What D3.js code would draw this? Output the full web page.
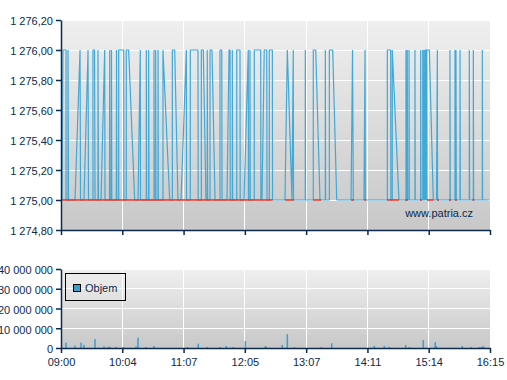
<!DOCTYPE html>
<meta charset='utf-8'>
<style>
	body {
		margin: 0;
		background: #fff;
	}

	text {
		font-family: 'Liberation Sans', Arial, sans-serif;
		font-size: 11px;
		fill: #0b2a4e;
	}

	.grid line {
		stroke: #fff;
		stroke-width: 1px;
		shape-rendering: crispEdges;
	}

	.axis path, .axis line {
		stroke: #0b2a4e;
		stroke-width: 1.5px;
	}
</style>
<body>
<script src='https://cdn.jsdelivr.net/npm/d3@7'></script>

<script type='text/javascript'>
	// minutes after 09:00 ; axis labels sit at equal steps of the session
	var timeLabels = ['09:00', '10:04', '11:07', '12:05', '13:07', '14:11', '15:14', '16:15'];
	var sessionLength = 435;

	var priceTicks = [1274.8, 1275.0, 1275.2, 1275.4, 1275.6, 1275.8, 1276.0, 1276.2];
	var volumeTicks = [0, 10000000, 20000000, 30000000, 40000000];

	// trades: [minute, price]
	var priceSeries = [
		[1.0, 1275], [2.0, 1276], [5.1, 1276], [5.1, 1275], [7.1, 1275], [7.1, 1276], [7.6, 1275],
		[14.2, 1275], [19.3, 1276], [19.8, 1275],
		[23.3, 1275], [27.4, 1276], [27.9, 1275],
		[32.4, 1275], [32.4, 1276], [34.0, 1276], [34.5, 1275],
		[37.5, 1275], [37.5, 1276], [38.0, 1275],
		[40.6, 1275], [44.3, 1276], [44.6, 1275],
		[49.2, 1275], [49.4, 1276], [49.7, 1275], [51.0, 1275], [51.2, 1276], [51.5, 1275],
		[56.1, 1275], [56.3, 1276], [56.6, 1275],
		[58.5, 1275], [58.5, 1276], [63.6, 1276], [63.8, 1275],
		[66.2, 1275], [66.2, 1276], [68.6, 1276], [74.7, 1275],
		[78.1, 1275], [80.4, 1276], [80.6, 1275],
		[86.5, 1275], [86.5, 1276], [86.8, 1275], [88.9, 1275], [88.9, 1276], [89.2, 1275],
		[94.3, 1275], [94.3, 1276], [94.6, 1275], [96.0, 1275], [96.0, 1276], [96.3, 1275],
		[98.4, 1275], [98.4, 1276], [98.7, 1275],
		[103.4, 1275], [103.4, 1276], [110.2, 1275],
		[112.9, 1275], [112.9, 1276], [115.3, 1276], [118.6, 1275],
		[121.7, 1275], [127.1, 1276], [127.3, 1275],
		[131.1, 1275], [131.1, 1276], [138.9, 1276], [139.1, 1275],
		[142.3, 1275], [142.3, 1276], [144.3, 1276], [147.0, 1275],
		[148.3, 1275], [148.3, 1276], [148.7, 1275],
		[151.1, 1275], [151.1, 1276], [153.1, 1276], [156.2, 1275],
		[161.2, 1275], [161.2, 1276], [163.0, 1276], [163.3, 1275],
		[168.3, 1275], [170.4, 1276], [171.4, 1276], [171.6, 1275],
		[173.7, 1275], [173.7, 1276], [174.0, 1275],
		[178.2, 1275], [178.2, 1276], [181.5, 1276], [181.7, 1275],
		[185.6, 1275], [189.9, 1276], [190.1, 1275], [191.6, 1275], [191.6, 1276], [191.9, 1275],
		[196.0, 1275], [196.0, 1276], [202.5, 1276], [202.7, 1275],
		[203.8, 1275], [206.1, 1276], [208.6, 1276], [208.9, 1275],
		[211.2, 1275], [211.2, 1276], [214.3, 1276], [214.5, 1275],
		[227.1, 1275], [229.5, 1276], [234.2, 1275], [235.5, 1276], [235.8, 1275],
		[247.7, 1275], [247.7, 1276], [248.0, 1275],
		[255.8, 1275], [255.8, 1276], [258.3, 1276], [262.6, 1275],
		[268.0, 1275], [268.0, 1276], [268.3, 1275],
		[272.1, 1275], [272.1, 1276], [275.5, 1276], [279.6, 1275],
		[294.1, 1275], [295.6, 1276], [296.4, 1275],
		[307.2, 1275], [308.3, 1276], [308.6, 1275],
		[330.9, 1275], [330.9, 1276], [334.3, 1276], [334.5, 1275], [335.9, 1275], [335.9, 1276], [342.7, 1275],
		[349.8, 1275], [349.8, 1276], [350.1, 1275], [351.1, 1275], [351.1, 1276], [351.4, 1275],
		[352.9, 1275], [352.9, 1276], [353.2, 1275],
		[358.9, 1275], [358.9, 1276], [359.2, 1275],
		[364.7, 1275], [364.7, 1276], [365.0, 1275], [366.8, 1275], [366.8, 1276], [367.1, 1275],
		[368.1, 1275], [368.1, 1276], [368.4, 1275],
		[369.4, 1275], [369.4, 1276], [370.4, 1276], [370.4, 1275], [370.9, 1275], [370.9, 1276], [373.5, 1276], [377.5, 1275],
		[380.8, 1275], [381.6, 1276], [381.8, 1275],
		[394.4, 1275], [394.4, 1276], [394.7, 1275],
		[399.5, 1275], [399.5, 1276], [399.8, 1275], [400.5, 1275], [400.5, 1276], [400.8, 1275],
		[404.6, 1275], [404.6, 1276], [404.9, 1275],
		[414.0, 1275], [414.0, 1276], [414.3, 1275],
		[418.1, 1275], [418.1, 1276], [418.4, 1275],
		[427.2, 1275], [427.2, 1276], [427.5, 1275],
		[434.0, 1275]
	];

	// previous close level, shown in red where the price line does not cover it
	var refLevel = 1275.0;
	var refSpans = [
		[0, 214.5], [227.1, 236.3], [255.5, 263.6], [294.1, 297.1], [307.2, 309.3],
		[330.6, 342.7], [348.8, 351.8], [364.0, 366.0], [371.1, 377.7], [381.3, 383.3],
		[393.4, 395.5], [399.5, 401.5], [417.1, 419.1]
	];

	// volume: [minute, shares]
	var volumeSeries = [
		[5.1, 2700000], [14.2, 1200000], [20.3, 2700000], [23.3, 1600000], [34.5, 4600000],
		[43.6, 800000], [47.7, 600000], [49.7, 600000], [55.8, 600000], [63.2, 500000],
		[76.1, 700000], [78.1, 5200000], [86.2, 500000], [94.3, 1000000], [128.1, 500000],
		[139.2, 2200000], [148.3, 500000], [161.5, 500000], [167.6, 1000000], [174.7, 500000],
		[186.9, 3500000], [207.2, 1000000], [208.2, 500000], [224.4, 1600000], [229.5, 7000000],
		[236.6, 500000], [263.9, 500000], [274.5, 2400000], [317.7, 1000000], [327.8, 1000000],
		[332.9, 500000], [349.5, 1500000], [353.2, 500000], [367.4, 4000000], [379.5, 3000000],
		[380.6, 1000000], [406.9, 1000000], [416.0, 500000], [423.9, 500000], [425.9, 500000],
		[427.9, 1000000], [429.0, 500000]
	];

	var svgW = 507, svgH = 380;
	var plotL = 61, plotR = 490;
	var top1 = 20, bot1 = 230, top2 = 269, bot2 = 348;

	var loc = d3.formatLocale({decimal: ',', thousands: ' ', grouping: [3], currency: ['', '']});
	var priceFmt = loc.format(',.2f');
	var volFmt = loc.format(',d');

	var x = d3.scaleLinear().domain([0, sessionLength]).range([plotL, plotR]);
	var xTicks = timeLabels.map(function (d, i) { return i * sessionLength / (timeLabels.length - 1); });
	var yP = d3.scaleLinear().domain([priceTicks[0], priceTicks[priceTicks.length - 1]]).range([bot1, top1]);
	var yV = d3.scaleLinear().domain([0, volumeTicks[volumeTicks.length - 1]]).range([bot2, top2]);

	var svg = d3.select('body').append('svg').attr('width', svgW).attr('height', svgH);

	var grad = svg.append('defs').append('linearGradient').attr('id', 'bg')
		.attr('x1', 0).attr('y1', 0).attr('x2', 0).attr('y2', 1);
	grad.append('stop').attr('offset', 0).attr('stop-color', '#efefef');
	grad.append('stop').attr('offset', 1).attr('stop-color', '#c8c8c8');

	function panel(y, ticks) {
		var r = y.range();
		var g = svg.append('g');
		g.append('rect').attr('x', plotL).attr('y', r[1]).attr('width', plotR - plotL)
			.attr('height', r[0] - r[1]).attr('fill', 'url(#bg)');

		var grid = g.append('g').attr('class', 'grid');
		grid.selectAll('line.h').data(ticks.slice(1)).enter().append('line')
			.attr('x1', plotL).attr('x2', plotR)
			.attr('y1', function (d) { return y(d); }).attr('y2', function (d) { return y(d); });
		grid.selectAll('line.v').data(xTicks.slice(1)).enter().append('line')
			.attr('y1', r[1]).attr('y2', r[0])
			.attr('x1', function (d) { return x(d); }).attr('x2', function (d) { return x(d); });
		return g;
	}

	function axes(y, ticks, fmt, showLabels) {
		var r = y.range();
		var ay = svg.append('g').attr('class', 'axis').attr('transform', 'translate(' + plotL + ',0)')
			.call(d3.axisLeft(y).tickValues(ticks).tickFormat(fmt).tickSize(5).tickSizeOuter(0).tickPadding(3));
		ay.selectAll('text').attr('dy', '0.45em');
		svg.append('g').attr('class', 'axis').attr('transform', 'translate(0,' + r[0] + ')')
			.call(d3.axisBottom(x).tickValues(xTicks).tickSize(5).tickSizeOuter(0).tickPadding(5)
				.tickFormat(function (d, i) { return showLabels ? timeLabels[i] : ''; }));
		svg.selectAll('.axis .domain').attr('fill', 'none');
		svg.selectAll('.axis text').attr('fill', '#0b2a4e').attr('font-size', 11)
			.attr('font-family', "'Liberation Sans', Arial, sans-serif");
	}

	// price panel
	panel(yP, priceTicks);

	var line = d3.line().x(function (d) { return x(d[0]); }).y(function (d) { return yP(d[1]); });
	svg.append('path').datum(priceSeries).attr('d', line)
		.attr('fill', 'none').attr('stroke', '#42a8d6').attr('stroke-width', 1.2)
		.attr('stroke-linejoin', 'bevel');

	svg.selectAll('line.ref').data(refSpans).enter().append('line')
		.attr('x1', function (d) { return x(d[0]); }).attr('x2', function (d) { return x(d[1]); })
		.attr('y1', yP(refLevel)).attr('y2', yP(refLevel))
		.attr('stroke', '#e4301f').attr('stroke-width', 1.5);

	svg.append('text').attr('x', 473).attr('y', 217).attr('text-anchor', 'end').text('www.patria.cz');

	axes(yP, priceTicks, priceFmt, false);

	// volume panel
	panel(yV, volumeTicks);

	svg.selectAll('rect.vol').data(volumeSeries).enter().append('rect')
		.attr('x', function (d) { return x(d[0]) - 0.75; }).attr('width', 1.5)
		.attr('y', function (d) { return yV(d[1]); })
		.attr('height', function (d) { return bot2 - yV(d[1]); })
		.attr('fill', '#3a9fcf');

	var legend = svg.append('g');
	legend.append('rect').attr('x', 65.5).attr('y', 273.5).attr('width', 60).attr('height', 27)
		.attr('fill', 'none').attr('stroke', '#000');
	legend.append('rect').attr('x', 73.5).attr('y', 284.5).attr('width', 7).attr('height', 7)
		.attr('fill', '#3a9fcf').attr('stroke', '#000');
	legend.append('text').attr('x', 85).attr('y', 292).attr('fill', '#111').text('Objem');

	axes(yV, volumeTicks, volFmt, true);
</script>
